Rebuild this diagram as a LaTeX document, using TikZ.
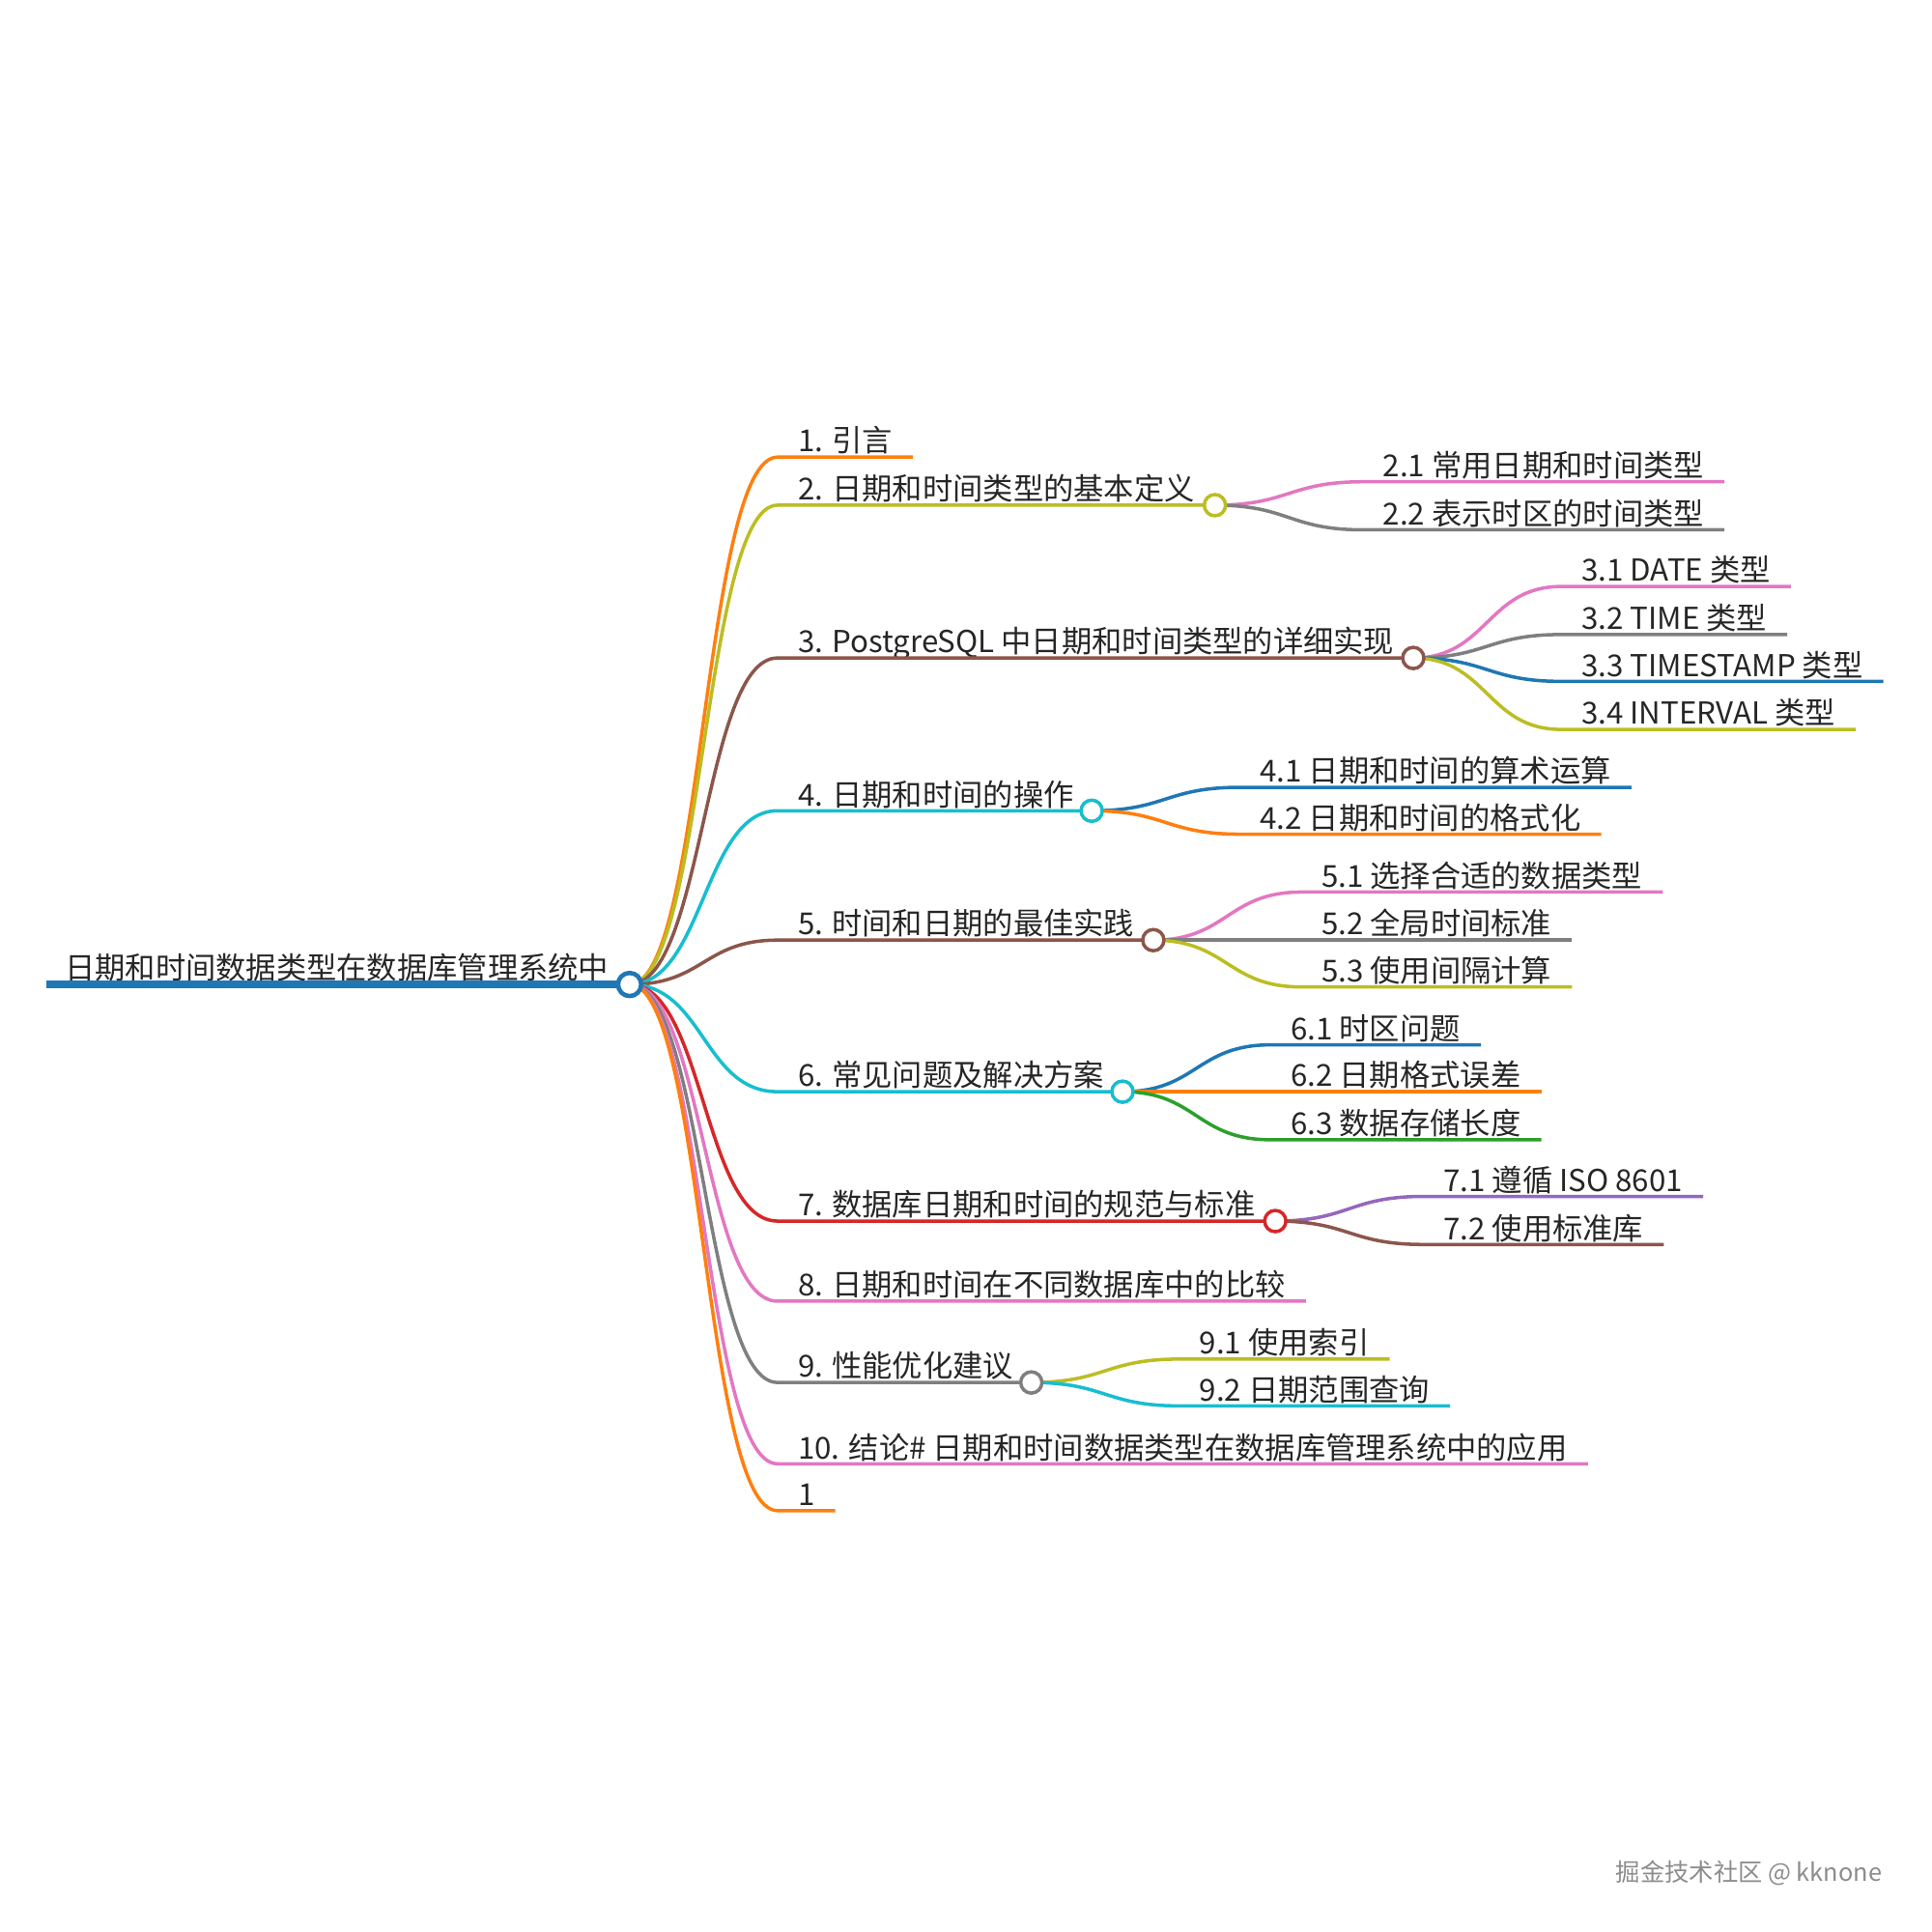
\documentclass[tikz,border=0pt]{standalone}
\usepackage{fontspec}
\setmainfont{Noto Sans CJK SC}
\usepackage{xcolor}
\usetikzlibrary{positioning}
\definecolor{mBlue}{HTML}{1F77B4}
\definecolor{mOrange}{HTML}{FF7F0E}
\definecolor{mGreen}{HTML}{2CA02C}
\definecolor{mRed}{HTML}{D62728}
\definecolor{mPurple}{HTML}{9467BD}
\definecolor{mBrown}{HTML}{8C564B}
\definecolor{mPink}{HTML}{E377C2}
\definecolor{mGray}{HTML}{7F7F7F}
\definecolor{mOlive}{HTML}{BCBD22}
\definecolor{mCyan}{HTML}{17BECF}
\tikzset{
    topic/.style={anchor=south west, inner xsep=0.205cm, inner ysep=1.3pt, text depth=0pt, font=\fontsize{8.9}{10}\selectfont, text=black!85},
    roottopic/.style={topic, inner xsep=0.18cm, inner ysep=1.3pt},
    link/.style={line width=1pt},
    rootline/.style={line width=2.2pt, mBlue},
    knot/.style={circle, draw, fill=white, line width=1pt, minimum size=0.22cm, inner sep=0pt},
    stamp/.style={anchor=east, font=\fontsize{7.2}{8}\selectfont, text=black!45},
}
\begin{document}
\begin{tikzpicture}[x=0.012755cm, y=-0.012755cm]
\useasboundingbox (0,0) rectangle (1568,1568);

% Knot positions
\coordinate (c0) at (511, 799);
\coordinate (c2) at (986, 410);
\coordinate (c3) at (1147, 534);
\coordinate (c4) at (886, 658);
\coordinate (c5) at (936, 763);
\coordinate (c6) at (911, 886);
\coordinate (c7) at (1035, 991);
\coordinate (c9) at (837, 1122);

% Topics
\node[roottopic] (root) at (38, 799) {日期和时间数据类型在数据库管理系统中};
\node[topic] (b1) at (631, 371) {1. 引言};
\node[topic] (b2) at (631, 410) {2. 日期和时间类型的基本定义};
\node[topic] (b3) at (631, 534) {3. PostgreSQL 中日期和时间类型的详细实现};
\node[topic] (b4) at (631, 658) {4. 日期和时间的操作};
\node[topic] (b5) at (631, 763) {5. 时间和日期的最佳实践};
\node[topic] (b6) at (631, 886) {6. 常见问题及解决方案};
\node[topic] (b7) at (631, 991) {7. 数据库日期和时间的规范与标准};
\node[topic] (b8) at (631, 1056) {8. 日期和时间在不同数据库中的比较};
\node[topic] (b9) at (631, 1122) {9. 性能优化建议};
\node[topic] (b10) at (631, 1188) {10. 结论\# 日期和时间数据类型在数据库管理系统中的应用};
\node[topic] (b11) at (631, 1226) {1};

% Sub topics
\node[topic] (b21) at (1106, 391) {2.1 常用日期和时间类型};
\node[topic] (b22) at (1106, 430) {2.2 表示时区的时间类型};
\node[topic] (b31) at (1267, 476) {3.1 DATE 类型};
\node[topic] (b32) at (1267, 515) {3.2 TIME 类型};
\node[topic] (b33) at (1267, 553) {3.3 TIMESTAMP 类型};
\node[topic] (b34) at (1267, 592) {3.4 INTERVAL 类型};
\node[topic] (b41) at (1006, 639) {4.1 日期和时间的算术运算};
\node[topic] (b42) at (1006, 677) {4.2 日期和时间的格式化};
\node[topic] (b51) at (1056, 724) {5.1 选择合适的数据类型};
\node[topic] (b52) at (1056, 763) {5.2 全局时间标准};
\node[topic] (b53) at (1056, 801) {5.3 使用间隔计算};
\node[topic] (b61) at (1031, 848) {6.1 时区问题};
\node[topic] (b62) at (1031, 886) {6.2 日期格式误差};
\node[topic] (b63) at (1031, 925) {6.3 数据存储长度};
\node[topic] (b71) at (1155, 971) {7.1 遵循 ISO 8601};
\node[topic] (b72) at (1155, 1010) {7.2 使用标准库};
\node[topic] (b91) at (957, 1103) {9.1 使用索引};
\node[topic] (b92) at (957, 1141) {9.2 日期范围查询};

% Root links
\draw[rootline] (root.south west) -- (c0);
\draw[link, mOrange] (c0) .. controls +(60,0) and +(-60,0) .. (b1.south west) -- (b1.south east);
\draw[link, mOlive] (c0) .. controls +(60,0) and +(-60,0) .. (b2.south west) -- (c2);
\draw[link, mBrown] (c0) .. controls +(60,0) and +(-60,0) .. (b3.south west) -- (c3);
\draw[link, mCyan] (c0) .. controls +(60,0) and +(-60,0) .. (b4.south west) -- (c4);
\draw[link, mBrown] (c0) .. controls +(60,0) and +(-60,0) .. (b5.south west) -- (c5);
\draw[link, mCyan] (c0) .. controls +(60,0) and +(-60,0) .. (b6.south west) -- (c6);
\draw[link, mRed] (c0) .. controls +(60,0) and +(-60,0) .. (b7.south west) -- (c7);
\draw[link, mPink] (c0) .. controls +(60,0) and +(-60,0) .. (b8.south west) -- (b8.south east);
\draw[link, mGray] (c0) .. controls +(60,0) and +(-60,0) .. (b9.south west) -- (c9);
\draw[link, mPink] (c0) .. controls +(60,0) and +(-60,0) .. (b10.south west) -- (b10.south east);
\draw[link, mOrange] (c0) .. controls +(60,0) and +(-60,0) .. (b11.south west) -- (b11.south east);

% Sub links
\draw[link, mPink] (c2) .. controls +(60,0) and +(-60,0) .. (b21.south west) -- (b21.south east);
\draw[link, mGray] (c2) .. controls +(60,0) and +(-60,0) .. (b22.south west) -- (b22.south east);
\draw[link, mPink] (c3) .. controls +(60,0) and +(-60,0) .. (b31.south west) -- (b31.south east);
\draw[link, mGray] (c3) .. controls +(60,0) and +(-60,0) .. (b32.south west) -- (b32.south east);
\draw[link, mBlue] (c3) .. controls +(60,0) and +(-60,0) .. (b33.south west) -- (b33.south east);
\draw[link, mOlive] (c3) .. controls +(60,0) and +(-60,0) .. (b34.south west) -- (b34.south east);
\draw[link, mBlue] (c4) .. controls +(60,0) and +(-60,0) .. (b41.south west) -- (b41.south east);
\draw[link, mOrange] (c4) .. controls +(60,0) and +(-60,0) .. (b42.south west) -- (b42.south east);
\draw[link, mPink] (c5) .. controls +(60,0) and +(-60,0) .. (b51.south west) -- (b51.south east);
\draw[link, mGray] (c5) .. controls +(60,0) and +(-60,0) .. (b52.south west) -- (b52.south east);
\draw[link, mOlive] (c5) .. controls +(60,0) and +(-60,0) .. (b53.south west) -- (b53.south east);
\draw[link, mBlue] (c6) .. controls +(60,0) and +(-60,0) .. (b61.south west) -- (b61.south east);
\draw[link, mOrange] (c6) .. controls +(60,0) and +(-60,0) .. (b62.south west) -- (b62.south east);
\draw[link, mGreen] (c6) .. controls +(60,0) and +(-60,0) .. (b63.south west) -- (b63.south east);
\draw[link, mPurple] (c7) .. controls +(60,0) and +(-60,0) .. (b71.south west) -- (b71.south east);
\draw[link, mBrown] (c7) .. controls +(60,0) and +(-60,0) .. (b72.south west) -- (b72.south east);
\draw[link, mOlive] (c9) .. controls +(60,0) and +(-60,0) .. (b91.south west) -- (b91.south east);
\draw[link, mCyan] (c9) .. controls +(60,0) and +(-60,0) .. (b92.south west) -- (b92.south east);

% Knots
\node[knot, draw=mBlue, line width=1.3pt, minimum size=0.24cm] (k0) at (c0) {};
\node[knot, draw=mOlive] (k2) at (c2) {};
\node[knot, draw=mBrown] (k3) at (c3) {};
\node[knot, draw=mCyan] (k4) at (c4) {};
\node[knot, draw=mBrown] (k5) at (c5) {};
\node[knot, draw=mCyan] (k6) at (c6) {};
\node[knot, draw=mRed] (k7) at (c7) {};
\node[knot, draw=mGray] (k9) at (c9) {};

% Watermark
\node[stamp] (wm) at (1537, 1520) {掘金技术社区 @ kknone};

\end{tikzpicture}
\end{document}
